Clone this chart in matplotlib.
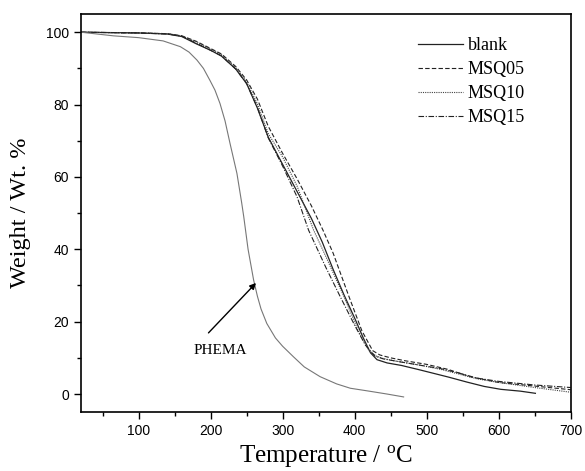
import matplotlib
matplotlib.use("Agg")
import matplotlib.pyplot as plt
from matplotlib.ticker import MultipleLocator

plt.rcParams['mathtext.fontset'] = 'custom'
plt.rcParams['mathtext.rm'] = 'Liberation Serif'

# ---- data ----
blank_T = [20, 60, 100, 140, 160, 180, 200, 215, 235, 250, 265, 280, 297, 320, 340, 355, 370, 385,
           400, 412, 422, 431, 445, 465, 490, 510, 530, 556, 580, 603, 630, 651]
blank_W = [100, 99.9, 99.8, 99.5, 98.8, 96.8, 95.0, 93.4, 89.8, 85.8, 79.0, 71.0, 64.6, 56.0, 48.5, 42.0,
           34.5, 27.5, 21.0, 15.5, 11.4, 9.5, 8.6, 7.9, 6.7, 5.7, 4.7, 3.3, 2.1, 1.3, 0.8, 0.2]

msq05_T = [20, 60, 100, 140, 160, 180, 200, 215, 235, 250, 265, 280, 300, 320, 340, 356, 370, 392,
           410, 425, 435, 450, 470, 500, 530, 560, 600, 650, 700]
msq05_W = [100, 99.9, 99.8, 99.6, 99.0, 97.5, 95.5, 94.0, 90.5, 86.8, 81.5, 74.0, 66.5, 59.5, 52.0, 45.3,
           39.0, 27.0, 17.5, 12.0, 10.8, 10.0, 9.2, 8.2, 6.8, 4.8, 3.2, 2.2, 1.2]

msq10_T = [20, 60, 100, 140, 160, 180, 200, 215, 235, 250, 265, 280, 300, 320, 343, 360, 385, 405,
           420, 430, 440, 460, 490, 520, 545, 570, 600, 650, 700]
msq10_W = [100, 99.9, 99.8, 99.6, 99.0, 97.3, 95.3, 93.8, 90.2, 86.3, 80.2, 72.0, 65.5, 57.5, 45.3, 38.0,
           27.0, 17.5, 12.0, 10.5, 9.8, 9.0, 8.0, 6.8, 5.5, 4.2, 3.2, 1.8, 0.5]

msq15_T = [20, 60, 100, 140, 160, 180, 200, 215, 235, 250, 265, 280, 300, 320, 336, 360, 380, 400,
           415, 428, 440, 460, 490, 520, 545, 570, 600, 650, 700]
msq15_W = [100, 99.9, 99.8, 99.5, 98.9, 97.0, 95.0, 93.5, 89.8, 85.8, 79.2, 70.8, 63.0, 54.5, 45.3, 35.0,
           26.9, 19.0, 13.5, 10.5, 9.7, 9.0, 8.0, 7.0, 5.8, 4.4, 3.5, 2.5, 1.8]

phema_T = [20, 65, 100, 134, 158, 170, 181, 190, 199, 206, 213, 220, 227, 236.5, 243, 246, 252, 259.7,
           265, 270, 278, 290, 300, 315, 330, 352, 375, 394, 420, 445, 468]
phema_W = [100, 99.0, 98.5, 97.6, 96.0, 94.5, 92.3, 90.0, 86.7, 84.0, 80.3, 75.5, 69.2, 61.0, 53.0, 49.0,
           40.0, 31.5, 27.0, 23.5, 19.5, 15.5, 13.2, 10.3, 7.5, 4.8, 2.8, 1.6, 0.8, 0.0, -0.8]

labels = ['blank', 'MSQ05', 'MSQ10', 'MSQ15']

fig = plt.figure(figsize=(5.85, 4.71), dpi=100)
ax = fig.add_axes([0.1385, 0.125, 0.837, 0.845])

ax.plot(blank_T, blank_W, color='#222222', lw=0.9, ls='-', label=labels[0])
ax.plot(msq05_T, msq05_W, color='#222222', lw=0.8, ls=(0, (4, 2)), label=labels[1])
ax.plot(msq10_T, msq10_W, color='#444444', lw=0.8, ls=(0, (1, 1)), label=labels[2])
ax.plot(msq15_T, msq15_W, color='#222222', lw=0.8, ls=(0, (5, 1.5, 1, 1.5)), label=labels[3])
ax.plot(phema_T, phema_W, color='#777777', lw=0.8, ls='-')

ax.annotate('', xy=(263, 30.7), xytext=(197, 16.9),
            arrowprops=dict(arrowstyle='-|>', color='black', lw=1.0,
                            mutation_scale=9, shrinkA=0, shrinkB=0))
ax.text(213, 12.0, 'PHEMA', ha='center', va='center', fontsize=11, family='Liberation Serif')

ax.set_xlim(20, 700)
ax.set_ylim(-5, 105)
ax.xaxis.set_major_locator(MultipleLocator(100))
ax.xaxis.set_minor_locator(MultipleLocator(50))
ax.yaxis.set_major_locator(MultipleLocator(20))
ax.yaxis.set_minor_locator(MultipleLocator(10))
ax.tick_params(which='both', direction='out', top=False, right=False, width=1.0)
ax.tick_params(which='major', length=5, labelsize=10)
ax.tick_params(which='minor', length=3)
for lab in ax.get_xticklabels() + ax.get_yticklabels():
    lab.set_family('Liberation Sans')
for s in ax.spines.values():
    s.set_linewidth(1.2)

ax.set_xlabel('Temperature / $\\mathregular{^{o}}$C', fontsize=18, family='Liberation Serif', labelpad=4)
ax.set_ylabel('Weight / Wt. %', fontsize=17.5, family='Liberation Serif', labelpad=11)

leg = ax.legend(loc='upper left', frameon=False, prop={'family': 'Liberation Serif', 'size': 13},
                handlelength=2.45, handletextpad=0.28, labelspacing=0.38,
                bbox_to_anchor=(0.674, 0.96), borderaxespad=0.0)

fig.savefig('out.png', dpi=100)
